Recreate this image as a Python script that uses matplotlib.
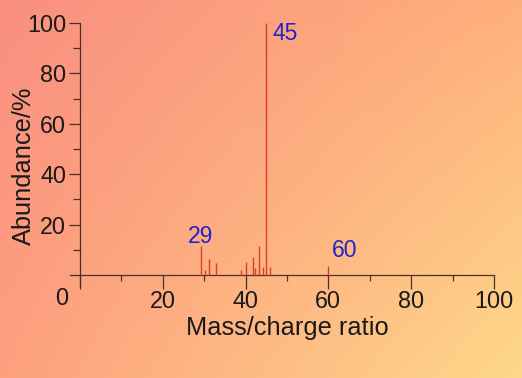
import numpy as np
import matplotlib
matplotlib.use("Agg")
import matplotlib.pyplot as plt

plt.rcParams['font.family'] = ['Liberation Sans', 'DejaVu Sans']

# Data
mz = [29.3, 30.3, 31.2, 32.9, 39.0, 40.0, 41.7, 42.3, 43.3, 44.2, 45.0, 46.0, 60.0]
abundance = [11.5, 2.0, 6.3, 4.9, 2.0, 5.2, 7.3, 2.6, 11.3, 3.3, 100.0, 3.3, 3.7]
peak_labels = ["29", "45", "60"]
peak_label_x = [29.2, 46.6, 64.0]
peak_label_y = [15.1, 96.0, 9.5]
x_ticks = [0, 20, 40, 60, 80, 100]
x_ticklabels = ["", "20", "40", "60", "80", "100"]
y_ticks = [20, 40, 60, 80, 100]
y_ticklabels = ["20", "40", "60", "80", "100"]

fig = plt.figure(figsize=(5.22, 3.78), dpi=100)

# background gradient
bg = fig.add_axes([0, 0, 1, 1], zorder=0)
bg.set_axis_off()
tl = np.array([249, 143, 128]) / 255
tr = np.array([255, 176, 124]) / 255
bl = np.array([254, 160, 126]) / 255
br = np.array([253, 216, 138]) / 255
ny, nx = 100, 140
u = np.linspace(0, 1, nx)[None, :, None]
v = np.linspace(0, 1, ny)[:, None, None]
img = (1 - v) * ((1 - u) * tl + u * tr) + v * ((1 - u) * bl + u * br)
bg.imshow(img, aspect='auto', extent=[0, 1, 0, 1], interpolation='bilinear')
bg.set_xlim(0, 1)
bg.set_ylim(0, 1)

ax = fig.add_axes([70 / 522, 1 - 285 / 378, (494 - 70) / 522, (285 - 23) / 378], zorder=1)
ax.patch.set_alpha(0)
ax.set_xlim(-2.4, 100)
ax.set_ylim(-4, 100)

ax.vlines(mz, 0, abundance, color='#d8402a', linewidth=1.0, zorder=3)

for lab, lx, ly in zip(peak_labels, peak_label_x, peak_label_y):
    ha = 'left' if lab == "45" else 'center'
    ax.text(lx, ly, lab, color='#2323c8', fontsize=16.5, ha=ha, va='center', zorder=4)

axis_col = '#4a3028'
for s in ['top', 'right']:
    ax.spines[s].set_visible(False)
ax.spines['left'].set_position(('data', 0))
ax.spines['bottom'].set_position(('data', 0))
ax.spines['left'].set_bounds(-4, 100)
ax.spines['bottom'].set_bounds(-2.4, 100)
for s in ['left', 'bottom']:
    ax.spines[s].set_color(axis_col)
    ax.spines[s].set_linewidth(0.9)

ax.set_xticks(x_ticks)
ax.set_xticklabels(x_ticklabels)
ax.set_xticks([10, 30, 50, 70, 90], minor=True)
ax.set_yticks(y_ticks)
ax.set_yticklabels(y_ticklabels)
ax.set_yticks([10, 30, 50, 70, 90], minor=True)

ax.tick_params(axis='x', which='major', direction='out', length=10, width=0.9,
               color=axis_col, labelsize=16.8, labelcolor='#1a1a1a', pad=1)
ax.tick_params(axis='x', which='minor', direction='out', length=4, width=0.9, color=axis_col)
ax.tick_params(axis='y', which='major', direction='out', length=8, width=0.9,
               color=axis_col, labelsize=16.8, labelcolor='#1a1a1a', pad=2)
ax.tick_params(axis='y', which='minor', direction='out', length=5, width=0.9, color=axis_col)

ax.text(-4.35, -9.2, "0", fontsize=16.8, color='#1a1a1a', ha='center', va='center')

fig.text(287 / 522, 1 - 328 / 378, "Mass/charge ratio", fontsize=18.3, color='#1a1a1a',
         ha='center', va='center')
fig.text(24 / 522, 1 - 166 / 378, "Abundance/%", fontsize=18.3, color='#1a1a1a',
         ha='center', va='center', rotation=90)

fig.savefig("out.png", dpi=100)
